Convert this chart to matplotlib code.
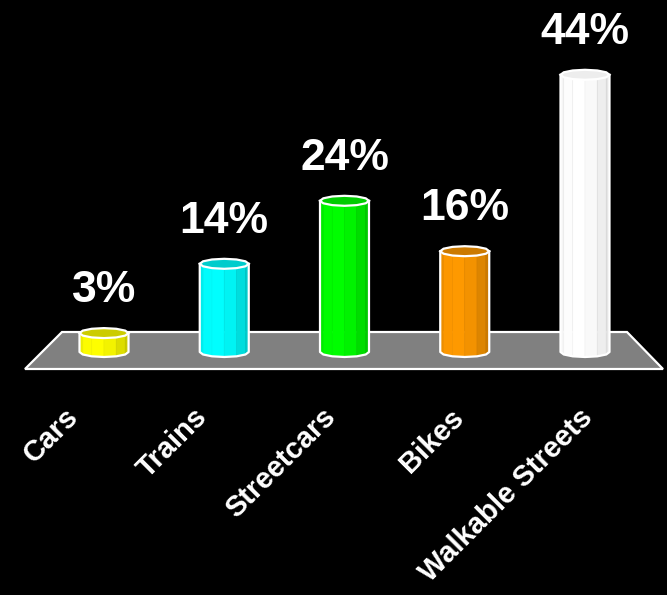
import numpy as np
import matplotlib
matplotlib.use("Agg")
from matplotlib import pyplot as plt
from matplotlib.patches import Polygon

# chart data
categories = ["Cars", "Trains", "Streetcars", "Bikes", "Walkable Streets"]
values = [3, 14, 24, 16, 44]
labels = ["3%", "14%", "24%", "16%", "44%"]
colors = ["#ffff00", "#00ffff", "#00ff00", "#ff9900", "#ffffff"]

W, H = 667, 595
fig = plt.figure(figsize=(W / 100, H / 100), dpi=100, facecolor="black")
ax = fig.add_axes([0, 0, 1, 1])
ax.set_facecolor("black")
ax.axis("off")

# pixel mapping: bar i centre at 104 + 120.25*i px, value 0 at 352 px from top, 6.3 px per %
step_px, x0_px = 120.25, 104
base_px, per_px = 352, 6.3
ax.set_xlim(-x0_px / step_px, (W - x0_px) / step_px)
ax.set_ylim(-(H - base_px) / per_px, base_px / per_px)

rx = 24.5 / step_px    # cylinder half width (x units)
ry = 5.0 / per_px      # ellipse half height (y units)

# floor
floor = [(25, 369), (62, 332), (627, 332), (663, 369)]
ax.add_patch(Polygon([(x / W, 1 - y / H) for x, y in floor], closed=True,
                     transform=ax.transAxes, facecolor="#808080",
                     edgecolor="white", lw=1.6, zorder=1))


def shade(col, f):
    c = np.array(matplotlib.colors.to_rgb(col))
    return tuple(np.clip(c * f, 0, 1))


n = 12
ang = np.linspace(0, 2 * np.pi, n + 1)
for i, (v, col) in enumerate(zip(values, colors)):
    cx = i
    xs = cx + rx * np.cos(ang)
    ys = ry * np.sin(ang)
    # front faces (sin < 0): angles pi..2pi
    for k in range(n):
        a0, a1 = ang[k], ang[k + 1]
        mid = (a0 + a1) / 2
        if np.sin(mid) >= 0:
            continue
        f = np.cos(mid - np.radians(245))
        fac = 0.80 + 0.20 * max(f, 0)
        if col == "#ffffff":
            fac = 0.90 + 0.10 * max(f, 0)
        face = [(xs[k], ys[k]), (xs[k + 1], ys[k + 1]),
                (xs[k + 1], ys[k + 1] + v), (xs[k], ys[k] + v)]
        ax.add_patch(Polygon(face, closed=True, facecolor=shade(col, fac),
                             edgecolor=shade(col, fac * 0.97), lw=0.5, zorder=2 + i))
    # top cap
    cap = list(zip(xs[:-1], ys[:-1] + v))
    ax.add_patch(Polygon(cap, closed=True, facecolor=shade(col, 0.80 if col != "#ffffff" else 0.93),
                         edgecolor="white", lw=1.6, zorder=2.5 + i))
    # silhouette outline
    front = [(xs[k], ys[k]) for k in range(n // 2, n + 1)]
    outline = [(cx - rx, v)] + front + [(cx + rx, v)]
    ox, oy = zip(*outline)
    ax.plot(ox, oy, color="white", lw=1.6, zorder=2.6 + i, solid_joinstyle="round")
    # value label
    ax.text(cx, v + 31 / per_px, labels[i], color="white", fontsize=32,
            fontweight="bold", family="Liberation Sans", ha="center",
            va="baseline", zorder=10)

# category labels
for i, name in enumerate(categories):
    xp = 64 + 128.5 * i
    ax.text(xp / W, 1 - 403 / H, name, transform=ax.transAxes, color="white",
            fontsize=21, fontweight="bold", family="Liberation Sans",
            rotation=45, rotation_mode="anchor", ha="right", va="top")

fig.savefig("out.png", dpi=100, facecolor="black")
